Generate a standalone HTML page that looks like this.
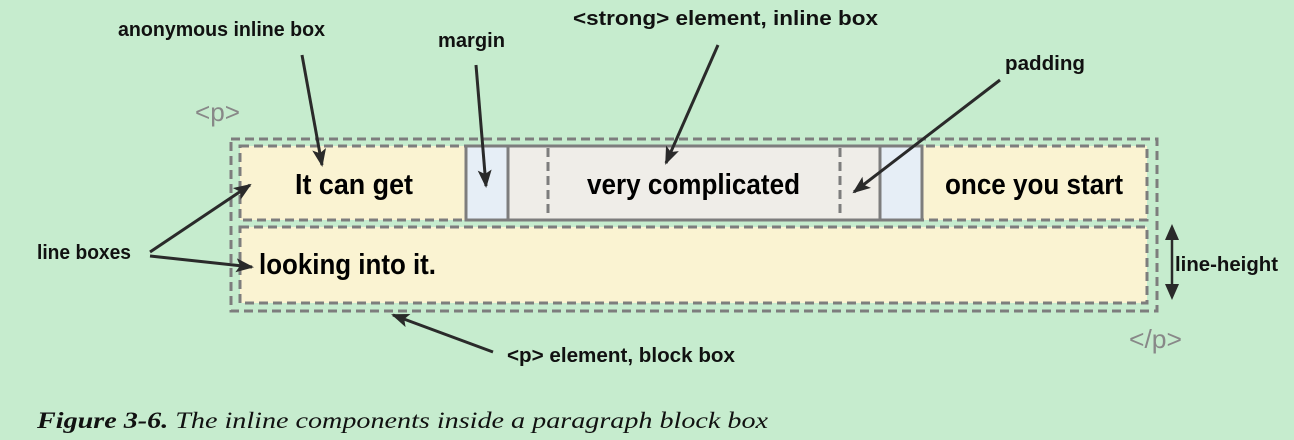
<!DOCTYPE html>
<html><head><meta charset="utf-8"><style>
html,body{margin:0;padding:0;background:#c6ecce;}
svg{display:block;}
.n{font-family:"Liberation Sans Narrow","Liberation Sans",sans-serif;}
</style></head><body>
<svg width="1294" height="440" viewBox="0 0 1294 440">
<defs><marker id="ah" markerWidth="20" markerHeight="16" refX="16" refY="7" orient="auto" markerUnits="userSpaceOnUse"><path d="M0,0 L18,7 L0,14 L4,7 Z" fill="#2a2a2a"/></marker></defs>
<rect width="1294" height="440" fill="#c6ecce"/>
<rect x="231" y="139" width="926" height="172" fill="none" stroke="#7d7d7d" stroke-width="3" stroke-dasharray="9,5"/>
<rect x="240" y="146" width="907" height="74" fill="#faf3d2" stroke="#7d7d7d" stroke-width="3" stroke-dasharray="9,5"/>
<rect x="240" y="227" width="907" height="76" fill="#faf3d2" stroke="#7d7d7d" stroke-width="3" stroke-dasharray="9,5"/>
<rect x="466" y="146" width="42" height="74" fill="#e6eef6" stroke="#7d7d7d" stroke-width="3"/>
<rect x="508" y="146" width="372" height="74" fill="#efede8" stroke="#7d7d7d" stroke-width="3"/>
<rect x="880" y="146" width="42" height="74" fill="#e6eef6" stroke="#7d7d7d" stroke-width="3"/>
<line x1="548" y1="148" x2="548" y2="218" stroke="#7d7d7d" stroke-width="3" stroke-dasharray="9,5"/>
<line x1="840" y1="148" x2="840" y2="218" stroke="#7d7d7d" stroke-width="3" stroke-dasharray="9,5"/>
<g class="n" font-size="29" fill="#000" font-weight="bold">
<text x="295" y="194" textLength="118" lengthAdjust="spacingAndGlyphs">It can get</text>
<text x="587" y="194" textLength="213" lengthAdjust="spacingAndGlyphs">very complicated</text>
<text x="945" y="194" textLength="178" lengthAdjust="spacingAndGlyphs">once you start</text>
<text x="259" y="274" textLength="177" lengthAdjust="spacingAndGlyphs">looking into it.</text>
</g>
<g class="n" font-size="20" fill="#111" font-weight="bold">
<text x="118" y="36" textLength="207" lengthAdjust="spacingAndGlyphs">anonymous inline box</text>
<text x="438" y="47" textLength="67" lengthAdjust="spacingAndGlyphs">margin</text>
<text x="573" y="25" textLength="305" lengthAdjust="spacingAndGlyphs">&lt;strong&gt; element, inline box</text>
<text x="1005" y="70" textLength="80" lengthAdjust="spacingAndGlyphs">padding</text>
<text x="37" y="259" textLength="94" lengthAdjust="spacingAndGlyphs">line boxes</text>
<text x="1175" y="271" textLength="103" lengthAdjust="spacingAndGlyphs">line-height</text>
<text x="507" y="362" textLength="228" lengthAdjust="spacingAndGlyphs">&lt;p&gt; element, block box</text>
</g>
<g class="n" font-size="26" fill="#888">
<text x="195" y="121" textLength="45" lengthAdjust="spacingAndGlyphs">&lt;p&gt;</text>
<text x="1129" y="348" textLength="53" lengthAdjust="spacingAndGlyphs">&lt;/p&gt;</text>
</g>
<g stroke="#2a2a2a" stroke-width="3" fill="none" marker-end="url(#ah)">
<line x1="302" y1="55" x2="322" y2="165"/>
<line x1="476" y1="65" x2="486" y2="186"/>
<line x1="718" y1="45" x2="666" y2="163"/>
<line x1="1000" y1="80" x2="854" y2="192"/>
<line x1="150" y1="252" x2="250" y2="185"/>
<line x1="150" y1="256" x2="252" y2="267"/>
<line x1="493" y1="352" x2="393" y2="315"/>
</g>
<g stroke="#2a2a2a" stroke-width="2.5">
<line x1="1172" y1="234" x2="1172" y2="290"/>
<path d="M1165,240 L1172,224 L1179,240 Z M1165,284 L1172,300 L1179,284 Z" fill="#2a2a2a" stroke="none"/>
</g>
<text x="37" y="428" font-family="'Liberation Serif',serif" font-style="italic" font-size="23" fill="#111" textLength="731" lengthAdjust="spacingAndGlyphs"><tspan font-weight="bold">Figure 3-6.</tspan>  The inline components inside a paragraph block box</text>
</svg>
</body></html>
